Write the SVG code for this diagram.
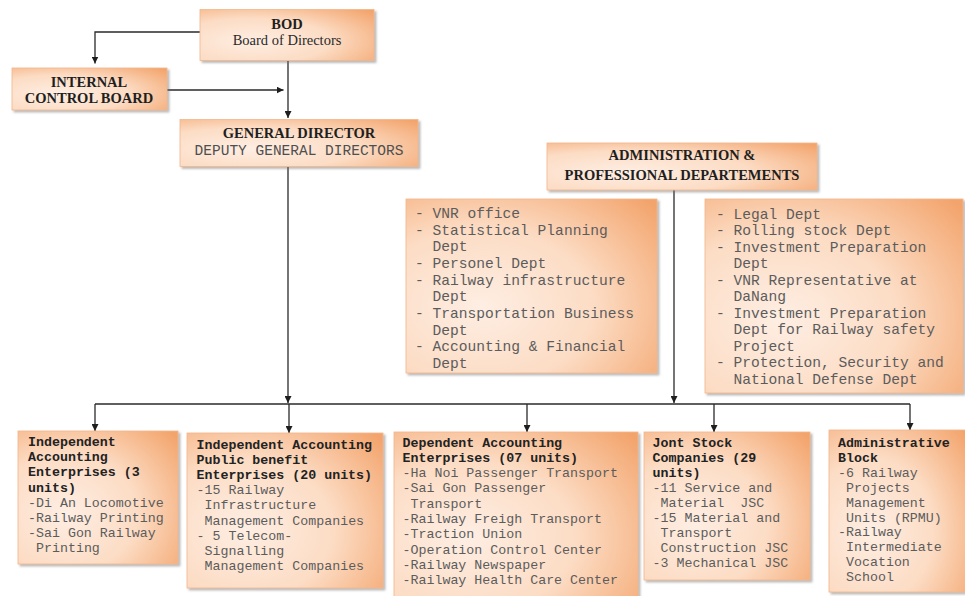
<svg xmlns="http://www.w3.org/2000/svg" width="965" height="596" viewBox="0 0 965 596">
  <defs>
    <radialGradient id="peach" cx="0.3" cy="0.62" r="0.9">
      <stop offset="0" stop-color="#feeee3"/>
      <stop offset="0.5" stop-color="#fcdcc4"/>
      <stop offset="1" stop-color="#f3a46c"/>
    </radialGradient>
    <filter id="shadow" x="-5%" y="-5%" width="115%" height="120%">
      <feDropShadow dx="2" dy="2" stdDeviation="1.2" flood-color="#6f6f6f" flood-opacity="0.5"/>
    </filter>
    <marker id="arrow" viewBox="0 0 8 8" refX="8" refY="4" markerWidth="7" markerHeight="7" markerUnits="userSpaceOnUse" orient="auto">
      <path d="M0,0 L8,4 L0,8 z" fill="#1e1e1e"/>
    </marker>
  </defs>
  <style>
    .box { fill: url(#peach); stroke: #f3b68c; stroke-width: 0.8; filter: url(#shadow); }
    .head { font-family: "Liberation Serif", "Times New Roman", serif; font-size: 14.5px; font-weight: bold; fill: #1f1f1f; text-anchor: middle; }
    .sub { font-family: "Liberation Serif", "Times New Roman", serif; font-size: 14.5px; fill: #2a2a2a; text-anchor: middle; }
    .subm { font-family: "Liberation Mono", "Courier New", monospace; font-size: 14.5px; fill: #4f4f4f; text-anchor: middle; }
    .dept { font-family: "Liberation Mono", "Courier New", monospace; font-size: 14.6px; fill: #5c5c5c; }
    .unit { font-family: "Liberation Mono", "Courier New", monospace; font-size: 13.3px; fill: #5c5c5c; }
    .unitb { font-family: "Liberation Mono", "Courier New", monospace; font-size: 13.3px; font-weight: bold; fill: #222; }
    .link { fill: none; stroke: #2a2a2a; stroke-width: 1.3; }
  </style>

  <rect width="965" height="596" fill="#ffffff"/>

  <!-- connectors -->
  <g id="connectors">
    <path class="link" d="M200,32 H95 V63.5" marker-end="url(#arrow)"/>
    <path class="link" d="M167,90 H283.5" marker-end="url(#arrow)"/>
    <path class="link" d="M288,61 V118" marker-end="url(#arrow)"/>
    <path class="link" d="M288,167 V403" marker-end="url(#arrow)"/>
    <path class="link" d="M674,190 V403" marker-end="url(#arrow)"/>
    <path class="link" d="M95,404 H910"/>
    <path class="link" d="M95,404 V431" marker-end="url(#arrow)"/>
    <path class="link" d="M289,404 V433" marker-end="url(#arrow)"/>
    <path class="link" d="M527,404 V432" marker-end="url(#arrow)"/>
    <path class="link" d="M714,404 V432" marker-end="url(#arrow)"/>
    <path class="link" d="M910,404 V430" marker-end="url(#arrow)"/>
  </g>

  <!-- board of directors -->
  <g id="bod">
    <rect class="box" x="200" y="9.5" width="174" height="51"/>
    <text class="head" x="287" y="28.7">BOD</text>
    <text class="sub" x="287" y="45">Board of Directors</text>
  </g>

  <!-- internal control board -->
  <g id="icb">
    <rect class="box" x="12" y="68" width="155" height="42"/>
    <text class="head" x="89" y="87.3">INTERNAL</text>
    <text class="head" x="89" y="103.3">CONTROL BOARD</text>
  </g>

  <!-- general director -->
  <g id="gd">
    <rect class="box" x="180" y="119.5" width="238" height="47"/>
    <text class="head" x="299" y="138.3">GENERAL DIRECTOR</text>
    <text class="subm" x="299" y="155">DEPUTY GENERAL DIRECTORS</text>
  </g>

  <!-- administration & professional departments -->
  <g id="admin">
    <rect class="box" x="547" y="143" width="270" height="47"/>
    <text class="head" x="682" y="160">ADMINISTRATION &amp;</text>
    <text class="head" x="682" y="179.5">PROFESSIONAL DEPARTEMENTS</text>
  </g>

  <!-- departments, left list -->
  <g id="dept-left">
    <rect class="box" x="406" y="199" width="251" height="174"/>
    <text class="dept" x="415" y="218">- VNR office</text>
    <text class="dept" x="415" y="234.7">- Statistical Planning</text>
    <text class="dept" x="432.5" y="251.3">Dept</text>
    <text class="dept" x="415" y="268">- Personel Dept</text>
    <text class="dept" x="415" y="284.7">- Railway infrastructure</text>
    <text class="dept" x="432.5" y="301.3">Dept</text>
    <text class="dept" x="415" y="318">- Transportation Business</text>
    <text class="dept" x="432.5" y="334.7">Dept</text>
    <text class="dept" x="415" y="351.3">- Accounting &amp; Financial</text>
    <text class="dept" x="432.5" y="368">Dept</text>
  </g>

  <!-- departments, right list -->
  <g id="dept-right">
    <rect class="box" x="705" y="199" width="258" height="194"/>
    <text class="dept" x="716" y="218.5">- Legal Dept</text>
    <text class="dept" x="716" y="235">- Rolling stock Dept</text>
    <text class="dept" x="716" y="251.5">- Investment Preparation</text>
    <text class="dept" x="733.5" y="268">Dept</text>
    <text class="dept" x="716" y="284.5">- VNR Representative at</text>
    <text class="dept" x="733.5" y="301">DaNang</text>
    <text class="dept" x="716" y="317.5">- Investment Preparation</text>
    <text class="dept" x="733.5" y="334">Dept for Railway safety</text>
    <text class="dept" x="733.5" y="350.5">Project</text>
    <text class="dept" x="716" y="367">- Protection, Security and</text>
    <text class="dept" x="733.5" y="383.5">National Defense Dept</text>
  </g>

  <!-- independent accounting enterprises -->
  <g id="unit-independent">
    <rect class="box" x="18" y="431" width="160" height="133"/>
    <text class="unitb" x="28" y="446">Independent</text>
    <text class="unitb" x="28" y="461.2">Accounting</text>
    <text class="unitb" x="28" y="476.4">Enterprises (3</text>
    <text class="unitb" x="28" y="491.6">units)</text>
    <text class="unit" x="28" y="506.8">-Di An Locomotive</text>
    <text class="unit" x="28" y="522">-Railway Printing</text>
    <text class="unit" x="28" y="537.2">-Sai Gon Railway</text>
    <text class="unit" x="36" y="552.4">Printing</text>
  </g>

  <!-- independent accounting public benefit enterprises -->
  <g id="unit-public">
    <rect class="box" x="187" y="433" width="196" height="155"/>
    <text class="unitb" x="196.5" y="448.5">Independent Accounting</text>
    <text class="unitb" x="196.5" y="463.7">Public benefit</text>
    <text class="unitb" x="196.5" y="478.9">Enterprises (20 units)</text>
    <text class="unit" x="196.5" y="494.1">-15 Railway</text>
    <text class="unit" x="204.5" y="509.3">Infrastructure</text>
    <text class="unit" x="204.5" y="524.5">Management Companies</text>
    <text class="unit" x="196.5" y="539.7">- 5 Telecom-</text>
    <text class="unit" x="204.5" y="554.9">Signalling</text>
    <text class="unit" x="204.5" y="570.1">Management Companies</text>
  </g>

  <!-- dependent accounting enterprises -->
  <g id="unit-dependent">
    <rect class="box" x="394" y="432" width="244" height="170"/>
    <text class="unitb" x="402.5" y="446.5">Dependent Accounting</text>
    <text class="unitb" x="402.5" y="461.8">Enterprises (07 units)</text>
    <text class="unit" x="402.5" y="477.1">-Ha Noi Passenger Transport</text>
    <text class="unit" x="402.5" y="492.4">-Sai Gon Passenger</text>
    <text class="unit" x="410.5" y="507.7">Transport</text>
    <text class="unit" x="402.5" y="523">-Railway Freigh Transport</text>
    <text class="unit" x="402.5" y="538.3">-Traction Union</text>
    <text class="unit" x="402.5" y="553.6">-Operation Control Center</text>
    <text class="unit" x="402.5" y="568.9">-Railway Newspaper</text>
    <text class="unit" x="402.5" y="584.2">-Railway Health Care Center</text>
  </g>

  <!-- joint stock companies -->
  <g id="unit-jsc">
    <rect class="box" x="644" y="432" width="166" height="148"/>
    <text class="unitb" x="652.5" y="446.5">Jont Stock</text>
    <text class="unitb" x="652.5" y="461.6">Companies (29</text>
    <text class="unitb" x="652.5" y="476.7">units)</text>
    <text class="unit" x="652.5" y="491.8">-11 Service and</text>
    <text class="unit" x="660.5" y="506.9">Material</text>
    <text class="unit" x="740.3" y="506.9">JSC</text>
    <text class="unit" x="652.5" y="522">-15 Material and</text>
    <text class="unit" x="660.5" y="537.1">Transport</text>
    <text class="unit" x="660.5" y="552.2">Construction JSC</text>
    <text class="unit" x="652.5" y="567.3">-3 Mechanical JSC</text>
  </g>

  <!-- administrative block -->
  <g id="unit-admin">
    <rect class="box" x="829" y="430" width="140" height="162"/>
    <text class="unitb" x="838" y="447">Administrative</text>
    <text class="unitb" x="838" y="461.9">Block</text>
    <text class="unit" x="838" y="476.8">-6 Railway</text>
    <text class="unit" x="846" y="491.7">Projects</text>
    <text class="unit" x="846" y="506.6">Management</text>
    <text class="unit" x="846" y="521.5">Units (RPMU)</text>
    <text class="unit" x="838" y="536.4">-Railway</text>
    <text class="unit" x="846" y="551.3">Intermediate</text>
    <text class="unit" x="846" y="566.2">Vocation</text>
    <text class="unit" x="846" y="581.1">School</text>
  </g>
</svg>
